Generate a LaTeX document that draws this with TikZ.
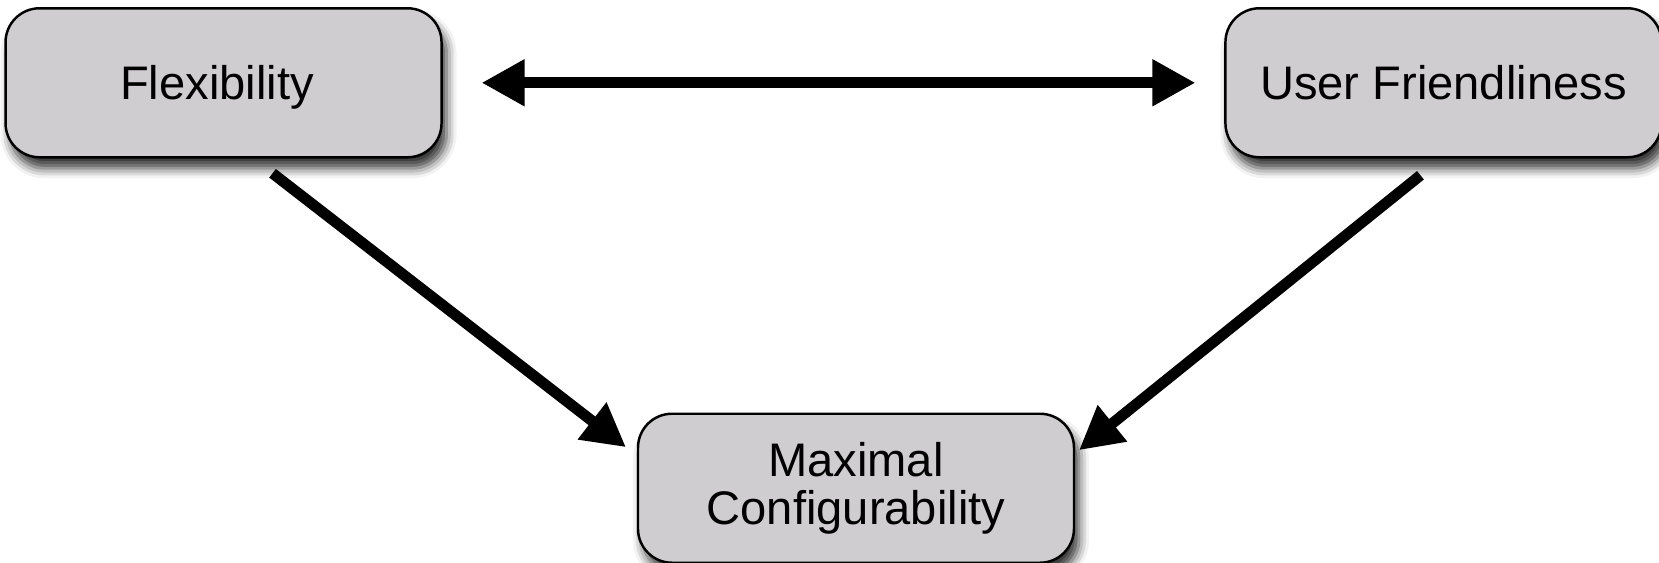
\documentclass[tikz,border=0pt]{standalone}
\usepackage{fontspec}
\setmainfont{Liberation Sans}
\usepackage{tikz}
\usetikzlibrary{matrix,arrows.meta,shadows.blur}
\definecolor{boxgray}{RGB}{207,205,207}

\begin{document}
\begin{tikzpicture}[>={Triangle[length=0.43cm,width=0.44cm]}, line width=3.1pt]
  \def\bw{4.36cm}
  \def\bh{1.49cm}

\useasboundingbox (0,0) rectangle (16.59,5.62);
\tikzstyle{goal}=[draw, line width=0.7pt, fill=boxgray, rounded corners=0.34cm, minimum width=\bw, minimum height=\bh, inner sep=0pt, outer sep=0pt, align=center, font=\fontsize{13.4}{13.5}\selectfont, blur shadow={shadow xshift=0.05cm, shadow yshift=-0.11cm, shadow blur radius=0.1cm, shadow opacity=80}]
\matrix (tri) [matrix of nodes, nodes={goal, anchor=center}, row 1/.style={nodes={text height=9.7pt, text depth=0.3pt}}, column sep=1.49cm, row sep=2.54cm, inner sep=0pt, outer sep=0pt] at (8.335,2.765) {Flexibility &[4.5mm] & User Friendliness\\
 & |[text width=3.4cm]| Maximal Configurability & \\};
\coordinate (flexout) at ([shift={(0.49,-0.16)}]tri-1-1.south);
\coordinate (userout) at ([shift={(-0.23,-0.18)}]tri-1-3.south);
\coordinate (maxleft) at ([shift={(-0.12,0.41)}]tri-2-2.west);
\coordinate (maxright) at ([shift={(0.05,0.38)}]tri-2-2.east);
\draw [<->, shorten <=0.4cm, shorten >=0.3cm] (tri-1-1) -- (tri-1-3);
\draw [->] (flexout) -- (maxleft);
\draw [->] (userout) -- (maxright);
\end{tikzpicture}
\end{document}
